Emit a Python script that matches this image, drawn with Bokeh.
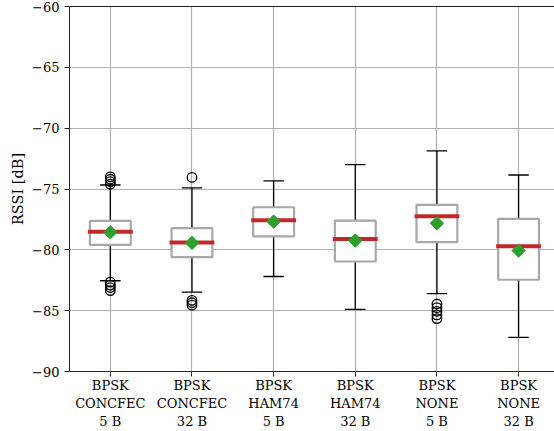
import numpy as np
from bokeh.plotting import figure
from bokeh.models import FixedTicker, LinearAxis, Range1d, ColumnDataSource
from bokeh.embed import file_html
from bokeh.resources import INLINE

# ---- data ----
categories = ["BPSK\nCONCFEC\n5 B", "BPSK\nCONCFEC\n32 B", "BPSK\nHAM74\n5 B",
              "BPSK\nHAM74\n32 B", "BPSK\nNONE\n5 B", "BPSK\nNONE\n32 B"]
q1 = [-79.59, -80.60, -78.90, -80.96, -79.37, -82.46]
q3 = [-77.62, -78.22, -76.50, -77.60, -76.31, -77.46]
median = [-78.51, -79.40, -77.57, -79.10, -77.24, -79.70]
mean = [-78.56, -79.43, -77.68, -79.24, -77.81, -80.06]
whisker_hi = [-74.67, -74.90, -74.34, -73.00, -71.86, -73.85]
whisker_lo = [-82.54, -83.47, -82.19, -84.90, -83.60, -87.20]
outliers = [
    [-74.0, -74.2, -74.4, -74.6, -82.65, -82.9, -83.1, -83.35],
    [-74.05, -84.15, -84.35, -84.55],
    [],
    [],
    [-84.45, -84.75, -85.05, -85.35, -85.65],
    [],
]
y_ticks = [-90, -85, -80, -75, -70, -65, -60]

pos = list(range(1, len(categories) + 1))
bw = 0.25   # half box width
cw = 0.125  # half cap width

FONT = "DejaVu Serif"
FS = "13px"

p = figure(width=554, height=431, output_backend="svg", toolbar_location=None,
           x_range=Range1d(0.5, 6.44), y_range=Range1d(-90, -60),
           min_border_left=69, min_border_right=0, min_border_top=6, min_border_bottom=10)
p.outline_line_color = None
p.background_fill_color = "white"
p.border_fill_color = "white"

# grid
p.xgrid.ticker = FixedTicker(ticks=pos)
p.ygrid.ticker = FixedTicker(ticks=y_ticks)
for g in (p.xgrid[0], p.ygrid[0]):
    g.grid_line_color = "#b0b0b0"
    g.grid_line_width = 1.2

# axes
for ax in (p.xaxis[0], p.yaxis[0]):
    ax.axis_line_color = "#222222"
    ax.axis_line_width = 1
    ax.major_tick_line_color = "#222222"
    ax.major_tick_out = 5
    ax.major_tick_in = 0
    ax.minor_tick_line_color = None
    ax.major_label_text_font = FONT
    ax.major_label_text_font_size = FS
    ax.major_label_text_color = "black"
    ax.major_label_standoff = 5
p.xaxis.major_label_standoff = 1

p.xaxis.ticker = FixedTicker(ticks=pos)
p.xaxis.major_label_overrides = {i: c for i, c in zip(pos, categories)}
p.yaxis.ticker = FixedTicker(ticks=y_ticks)
p.yaxis.major_label_overrides = {t: str(t).replace("-", "\u2212") for t in y_ticks}
p.yaxis.axis_label = "RSSI [dB]"
p.yaxis.axis_label_text_font = FONT
p.yaxis.axis_label_text_font_size = "14.5px"
p.yaxis.axis_label_text_font_style = "normal"
p.yaxis.axis_label_text_color = "black"
p.yaxis.axis_label_standoff = 3

# top spine
top = LinearAxis(ticker=FixedTicker(ticks=[]), axis_line_color="#222222", axis_line_width=1,
                 major_tick_line_color=None, minor_tick_line_color=None,
                 major_label_text_font_size="0px")
p.add_layout(top, "above")

src = ColumnDataSource(dict(x=pos, q1=q1, q3=q3, med=median, mean=mean,
                            whi=whisker_hi, wlo=whisker_lo,
                            l=[x - bw for x in pos], r=[x + bw for x in pos],
                            cl=[x - cw for x in pos], cr=[x + cw for x in pos]))

# whiskers
p.segment(x0="x", y0="q3", x1="x", y1="whi", source=src, line_color="black", line_width=1.3)
p.segment(x0="x", y0="q1", x1="x", y1="wlo", source=src, line_color="black", line_width=1.3)
# caps
p.segment(x0="cl", y0="whi", x1="cr", y1="whi", source=src, line_color="black", line_width=1.3)
p.segment(x0="cl", y0="wlo", x1="cr", y1="wlo", source=src, line_color="black", line_width=1.3)
# boxes
p.quad(left="l", right="r", bottom="q1", top="q3", source=src, fill_color="white",
       line_color="#a8a8a8", line_width=2.2)
# medians
p.segment(x0="l", y0="med", x1="r", y1="med", source=src, line_color="#c0282a",
          line_width=4, line_cap="square")
# means
p.scatter(x="x", y="mean", source=src, marker="square", angle=np.pi / 4, size=9.5,
          fill_color="#2ca02c", line_color="#2ca02c")

# outliers
ox, oy = [], []
for x, vals in zip(pos, outliers):
    for v in vals:
        ox.append(x)
        oy.append(v)
p.scatter(x=ox, y=oy, marker="circle", size=9.5, fill_color=None, line_color="black",
          line_width=1.3)

open("out.html", "w").write(file_html(p, INLINE))
